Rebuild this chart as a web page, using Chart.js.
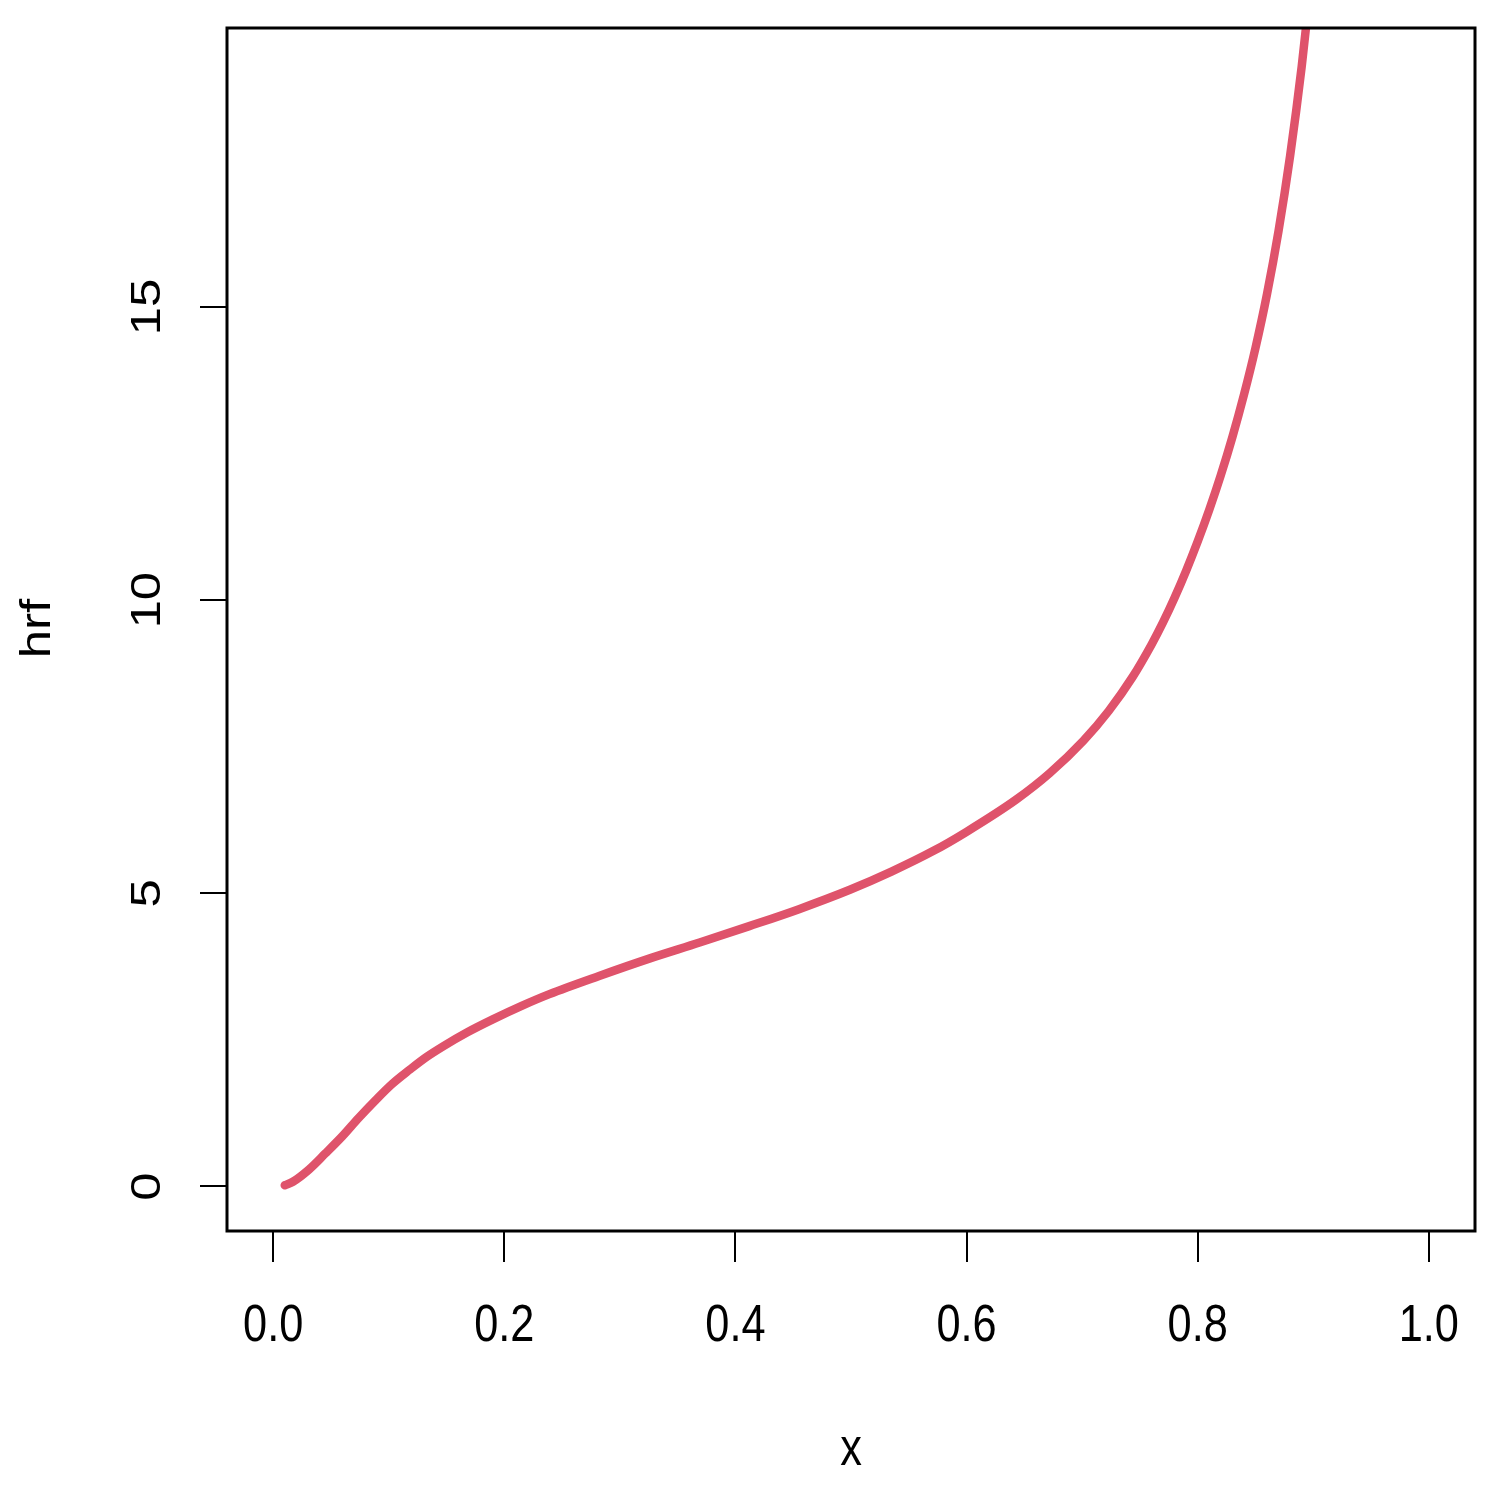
<!DOCTYPE html>
<html>
<head>
<meta charset="utf-8">
<script src="https://cdn.jsdelivr.net/npm/chart.js@4.4.1/dist/chart.umd.min.js"></script>
<style>
  html, body { margin: 0; padding: 0; background: #ffffff; }
  #wrap { width: 1491px; height: 1493px; position: relative; }
</style>
</head>
<body>
<div id="wrap"><canvas id="c"></canvas></div>
<script>
// ---- data ----
const xValues = [0.010, 0.017, 0.031, 0.045, 0.060, 0.074, 0.089, 0.103, 0.118, 0.132,
                 0.147, 0.168, 0.190, 0.215, 0.239, 0.282, 0.326, 0.369, 0.412, 0.455,
                 0.499, 0.535, 0.571, 0.600, 0.643, 0.672, 0.701, 0.723, 0.744, 0.760,
                 0.770, 0.780, 0.790, 0.800, 0.810, 0.820, 0.830, 0.840, 0.850, 0.860,
                 0.870, 0.880, 0.890, 0.900];
const hrfValues = [0.02, 0.08, 0.29, 0.56, 0.86, 1.17, 1.48, 1.75, 1.99, 2.20,
                   2.39, 2.63, 2.85, 3.08, 3.28, 3.59, 3.89, 4.16, 4.44, 4.73,
                   5.06, 5.37, 5.72, 6.05, 6.60, 7.05, 7.60, 8.11, 8.70, 9.24,
                   9.62, 10.04, 10.50, 11.00, 11.54, 12.13, 12.78, 13.50, 14.30, 15.22,
                   16.30, 17.58, 19.10, 20.90];
const xTicks = [0.0, 0.2, 0.4, 0.6, 0.8, 1.0];
const yTicks = [0, 5, 10, 15];
const xTickLabels = ["0.0", "0.2", "0.4", "0.6", "0.8", "1.0"];
const yTickLabels = ["0", "5", "10", "15"];
const xTitle = "x";
const yTitle = "hrf";

// ---- styling ----
const FONT = '51px "Liberation Sans", Arial, Helvetica, sans-serif';
const SX = 0.85; // horizontal squeeze of the reference glyphs

const points = xValues.map((x, i) => ({ x: x, y: hrfValues[i] }));

const rText = {
  id: 'rText',
  afterDatasetsDraw(chart) {
    const ctx = chart.ctx, ca = chart.chartArea;
    ctx.save();
    ctx.strokeStyle = '#000';
    ctx.lineWidth = 3;
    ctx.strokeRect(ca.left, ca.top, ca.right - ca.left, ca.bottom - ca.top);
    ctx.restore();
  },
  afterDraw(chart) {
    const ctx = chart.ctx, ca = chart.chartArea;
    const xs = chart.scales.x, ys = chart.scales.y;
    ctx.save();
    ctx.fillStyle = '#000';
    ctx.font = FONT;
    ctx.textAlign = 'center';
    ctx.textBaseline = 'alphabetic';
    xTicks.forEach((v, i) => {
      const px = xs.getPixelForValue(v);
      ctx.save();
      ctx.translate(px, ca.bottom + 110);
      ctx.scale(SX, 1);
      ctx.fillText(xTickLabels[i], 0, 0);
      ctx.restore();
    });
    yTicks.forEach((v, i) => {
      const py = ys.getPixelForValue(v);
      ctx.save();
      ctx.translate(ca.left - 67, py);
      ctx.scale(SX, 1);
      ctx.rotate(-Math.PI / 2);
      ctx.fillText(yTickLabels[i], 0, 0);
      ctx.restore();
    });
    // axis titles
    ctx.save();
    ctx.translate((ca.left + ca.right) / 2, ca.bottom + 234);
    ctx.scale(SX, 1);
    ctx.fillText(xTitle, 0, 0);
    ctx.restore();
    ctx.save();
    ctx.translate(49.5, (ca.top + ca.bottom) / 2 - 1);
    ctx.scale(SX, 1);
    ctx.rotate(-Math.PI / 2);
    ctx.fillText(yTitle, 0, 0);
    ctx.restore();
    ctx.restore();
  }
};

new Chart(document.getElementById('c'), {
  type: 'line',
  data: {
    datasets: [{
      label: 'hrf',
      data: points,
      borderColor: '#DF536B',
      borderWidth: 8.5,
      borderCapStyle: 'round',
      borderJoinStyle: 'round',
      pointRadius: 0,
      fill: false,
      cubicInterpolationMode: 'monotone',
      clip: 0
    }]
  },
  options: {
    responsive: true,
    maintainAspectRatio: false,
    animation: false,
    events: [],
    layout: { padding: { top: 28, right: 16, left: 0, bottom: 0 } },
    plugins: { legend: { display: false }, tooltip: { enabled: false }, title: { display: false } },
    scales: {
      x: {
        type: 'linear',
        position: 'bottom',
        min: -0.04,
        max: 1.04,
        afterBuildTicks: s => { s.ticks = xTicks.map(v => ({ value: v })); },
        afterFit: s => { s.height = 262; },
        ticks: { display: false },
        grid: { display: true, drawOnChartArea: false, drawTicks: true, tickLength: 31, color: '#000', lineWidth: 2 },
        border: { display: false },
        title: { display: false }
      },
      y: {
        type: 'linear',
        position: 'left',
        min: -0.76,
        max: 19.76,
        afterBuildTicks: s => { s.ticks = yTicks.map(v => ({ value: v })); },
        afterFit: s => { s.width = 227; },
        ticks: { display: false },
        grid: { display: true, drawOnChartArea: false, drawTicks: true, tickLength: 27, color: '#000', lineWidth: 2 },
        border: { display: false },
        title: { display: false }
      }
    }
  },
  plugins: [rText]
});
</script>
</body>
</html>
